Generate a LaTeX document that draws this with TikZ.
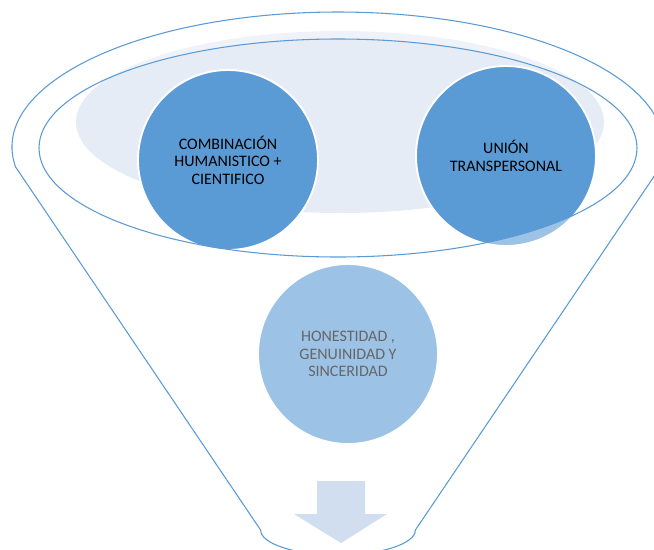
\documentclass[tikz,border=0pt]{standalone}
\usepackage{fontspec}
\setmainfont{Carlito}
\usepackage{xcolor}
\usepackage{tikz}

\definecolor{rimblue}{RGB}{91,155,213}
\definecolor{paleblue}{RGB}{229,236,246}
\definecolor{arrowblue}{RGB}{208,222,239}

% outline of the funnel: rim on top, straight sides, round bottom
\newcommand{\funnelshape}{(15.6,-167) arc[start angle=188.52, end angle=-8.52, x radius=326, y radius=135]
  -- (415.4,-530) arc[start angle=0, end angle=-180, x radius=77.4, y radius=25] -- cycle}

\begin{document}
\begin{tikzpicture}[
  x=0.75pt, y=0.75pt,
  font=\fontsize{12}{13.1}\selectfont,
  bubble/.style={circle, draw=white, line width=1.4pt, fill=rimblue, align=center, minimum size=135pt, inner sep=0pt},
  rim/.style={draw=rimblue, line width=0.8pt}
]
  \useasboundingbox (0,0) rectangle (654,-550);

  \fill[white] \funnelshape;
  \fill[paleblue] (340,-122) ellipse[x radius=264, y radius=91];

  \node[bubble] (combo) at (228,-160) {COMBINACIÓN\\HUMANISTICO +\\CIENTIFICO};
  \node[bubble] (union) at (506,-156) {UNIÓN\\TRANSPERSONAL};
  \node[bubble] (honesty) at (348,-354) {HONESTIDAD ,\\GENUINIDAD Y\\SINCERIDAD};

  % front of the funnel lightens what lies in it
  \begin{scope}
    \clip \funnelshape;
    \fill[white, fill opacity=0.4, even odd rule] (0,0) rectangle (654,-560) (338,-148) ellipse[x radius=299, y radius=109];
  \end{scope}

  \draw[rim] (338,-148) ellipse[x radius=299, y radius=109];
  \draw[rim] \funnelshape;

  \fill[arrowblue] (317,-481) -- (365,-481) -- (365,-514) -- (387,-514) -- (341,-543) -- (294,-514) -- (317,-514) -- cycle;
\end{tikzpicture}
\end{document}
